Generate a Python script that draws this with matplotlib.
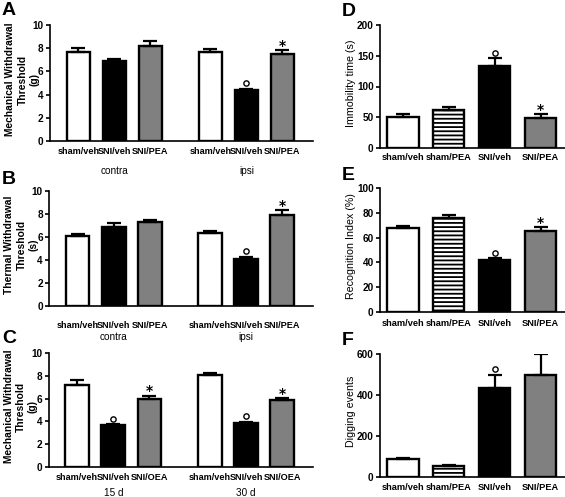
import matplotlib.pyplot as plt
from matplotlib.transforms import ScaledTranslation


plt.rcParams["font.family"] = ["Liberation Sans", "DejaVu Sans"]
plt.rcParams["hatch.linewidth"] = 1.3


# DATA

abc_labels_pea = ["sham/veh", "SNI/veh", "SNI/PEA", "sham/veh", "SNI/veh", "SNI/PEA"]
abc_labels_oea = ["sham/veh", "SNI/veh", "SNI/OEA", "sham/veh", "SNI/veh", "SNI/OEA"]
side_groups = ["contra", "ipsi"]
day_groups = ["15 d", "30 d"]

a_means = [7.64, 6.89, 8.21, 7.69, 4.38, 7.46]
a_sem = [0.40, 0.14, 0.41, 0.21, 0.14, 0.38]
a_marks = ["", "", "", "", "o", "*"]

b_means = [6.06, 6.87, 7.30, 6.38, 4.06, 7.88]
b_sem = [0.17, 0.35, 0.21, 0.11, 0.20, 0.44]
b_marks = ["", "", "", "", "o", "*"]

c_means = [7.15, 3.68, 5.97, 8.09, 3.82, 5.88]
c_sem = [0.50, 0.06, 0.29, 0.15, 0.15, 0.15]
c_marks = ["", "o", "*", "", "o", "*"]

def_labels = ["sham/veh", "sham/PEA", "SNI/veh", "SNI/PEA"]

d_means = [51, 61, 134, 49]
d_sem = [5, 6, 12, 6]
d_marks = ["", "", "o", "*"]

e_means = [67.5, 75.5, 42.0, 65.0]
e_sem = [2.0, 2.5, 1.2, 3.2]
e_marks = ["", "", "o", "*"]

f_means = [88, 52, 435, 500]
f_sem = [6, 7, 65, 98]
f_marks = ["", "", "o", ""]


# STYLE

W, H = 565, 497
GROUP_POS = [0, 1, 2, 3.67, 4.67, 5.67]
FOUR_POS = [0, 1, 2, 3]
GROUP_FILL = ["white", "black", "#808080"] * 2
FOUR_FILL = ["white", "white", "black", "#808080"]
FOUR_HATCH = ["", "----", "", ""]


def rect(left, top, right, bottom):
    return [left / W, 1 - bottom / H, (right - left) / W, (bottom - top) / H]


def style_axis(ax, ylim, yticks, tick_pad, xsize):
    ax.set_ylim(*ylim)
    ax.set_yticks(yticks)
    for side in ["top", "right"]:
        ax.spines[side].set_visible(False)
    for side in ["left", "bottom"]:
        ax.spines[side].set_linewidth(1.2)
    ax.tick_params(axis="y", length=3, width=1.2, pad=1.5, labelsize=7.2)
    ax.tick_params(axis="x", length=0, pad=tick_pad, labelsize=xsize)
    for lab in ax.get_yticklabels() + ax.get_xticklabels():
        lab.set_fontweight("bold")


def draw_bars(ax, pos, means, sem, fills, hatches, width, marks):
    ax.bar(pos, means, width=width, color=fills, edgecolor="black",
           linewidth=1.7, hatch=hatches, zorder=2)
    ax.errorbar(pos, means, yerr=[[0] * len(means), sem], fmt="none",
                ecolor="black", elinewidth=1.6, capsize=4.8, capthick=1.6,
                zorder=3)
    lift = ax.transData + ScaledTranslation(0, 4.0 / 72, ax.figure.dpi_scale_trans)
    for x, m, s, mark in zip(pos, means, sem, marks):
        if mark == "o":
            ax.plot([x], [m + s], linestyle="none", marker="o",
                    markersize=3.8, markerfacecolor="white",
                    markeredgecolor="black", markeredgewidth=1.0,
                    transform=lift, clip_on=False, zorder=4)
        elif mark == "*":
            ax.annotate("*", xy=(x, m + s), xytext=(0, 0.3),
                        textcoords="offset points", ha="center",
                        va="baseline", fontsize=10, fontweight="bold",
                        family="DejaVu Sans")


def grouped_panel(ax, labels, groups, means, sem, marks, ylabel,
                  tick_pad, group_off):
    draw_bars(ax, GROUP_POS, means, sem, GROUP_FILL, [""] * 6, 0.66, marks)
    ax.set_xlim(-0.79, 6.52)
    ax.set_xticks(GROUP_POS)
    ax.set_xticklabels(labels)
    style_axis(ax, (0, 10), range(0, 11, 2), tick_pad, 6.6)
    for i, name in enumerate(groups):
        centre = sum(GROUP_POS[3 * i:3 * i + 3]) / 3
        ax.annotate(name, xy=(centre, 0), xycoords=("data", "axes fraction"),
                    xytext=(0, -group_off), textcoords="offset points",
                    ha="center", va="center", fontsize=7.2)
    ax.set_ylabel(ylabel, fontsize=7.4, fontweight="bold", linespacing=1.25)
    ax.yaxis.set_label_coords(-0.04, 0.53)


def single_panel(ax, means, sem, marks, ylim, yticks, ylabel, tick_pad):
    draw_bars(ax, FOUR_POS, means, sem, FOUR_FILL, FOUR_HATCH, 0.68, marks)
    ax.set_xlim(-0.5, 3.53)
    ax.set_xticks(FOUR_POS)
    ax.set_xticklabels(def_labels)
    style_axis(ax, ylim, yticks, tick_pad, 6.7)
    ax.set_ylabel(ylabel, fontsize=7.7)
    ax.yaxis.set_label_coords(-0.13, 0.53)


fig = plt.figure(figsize=(W / 100, H / 100), dpi=100)

ax_a = fig.add_axes(rect(50, 25, 313, 141))
ax_b = fig.add_axes(rect(49, 191, 313, 306))
ax_c = fig.add_axes(rect(48.5, 353, 313, 467))
ax_d = fig.add_axes(rect(380, 25, 565, 148))
ax_e = fig.add_axes(rect(380, 188, 565, 312))
ax_f = fig.add_axes(rect(380, 354, 565, 477))

grouped_panel(ax_a, abc_labels_pea, side_groups, a_means, a_sem, a_marks,
              "Mechanical Withdrawal\nThreshold\n(g)", 4, 21.5)
grouped_panel(ax_b, abc_labels_pea, side_groups, b_means, b_sem, b_marks,
              "Thermal Withdrawal\nThreshold\n(s)", 11, 22)
grouped_panel(ax_c, abc_labels_oea, day_groups, c_means, c_sem, c_marks,
              "Mechanical Withdrawal\nThreshold\n(g)", 4, 19)

single_panel(ax_d, d_means, d_sem, d_marks, (0, 200), range(0, 201, 50),
             "Immobility time (s)", 3.5)
single_panel(ax_e, e_means, e_sem, e_marks, (0, 100), range(0, 101, 20),
             "Recognition Index (%)", 5)
single_panel(ax_f, f_means, f_sem, f_marks, (0, 600), range(0, 601, 200),
             "Digging events", 4)

for letter, x, y in [("A", 2, 2), ("B", 2, 171), ("C", 2, 330),
                     ("D", 342, 3), ("E", 342, 167), ("F", 342, 332)]:
    fig.text(x / W, 1 - y / H, letter, ha="left", va="top",
             fontsize=14, fontweight="bold")

fig.savefig("out.png", dpi=100)
